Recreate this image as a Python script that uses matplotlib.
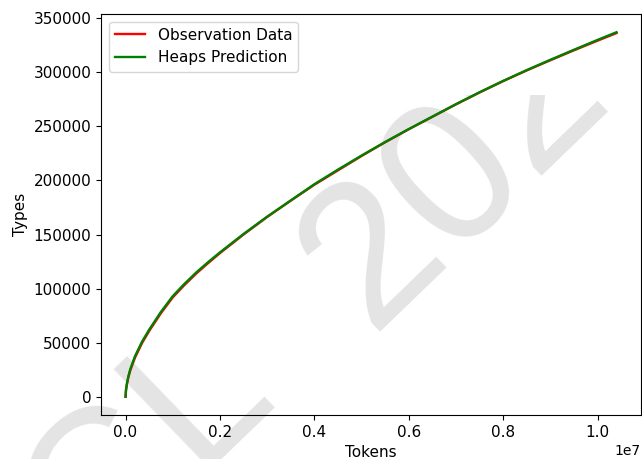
import matplotlib
matplotlib.use("Agg")
import matplotlib.pyplot as plt
from matplotlib.transforms import Bbox, TransformedBbox

# Data
tokens = [0, 1.0e4, 3.0e4, 6.0e4, 1.0e5, 2.0e5, 3.5e5, 5.0e5, 7.5e5, 1.0e6,
          1.25e6, 1.5e6, 1.75e6, 2.0e6, 2.5e6, 3.0e6, 3.5e6, 4.0e6, 4.5e6,
          5.0e6, 5.5e6, 6.0e6, 6.5e6, 7.0e6, 7.5e6, 8.0e6, 8.5e6, 9.0e6,
          9.5e6, 1.0e7, 1.04e7]
types_pred = [0, 6500, 12500, 19000, 25500, 37500, 51000, 62000, 78500, 93000,
              104500, 115000, 124500, 133500, 150500, 166500, 181500, 196500,
              210000, 223000, 235500, 247500, 259000, 270500, 281500, 292000,
              302000, 311500, 320800, 329900, 337000]
types_obs = [0, 6200, 11800, 18000, 24300, 36200, 49700, 60800, 77300, 91900,
             103400, 114000, 123600, 132800, 150000, 166200, 181300, 196000,
             209300, 222600, 235300, 247300, 258800, 270300, 281300, 291800,
             301700, 311100, 320300, 329200, 336200]

W, H = 642, 459
fig = plt.figure(figsize=(W/100, H/100), dpi=100)
ax = fig.add_axes([101/W, 1-415/H, 540/W, 401/H])
ax.set_facecolor('none')

clip = TransformedBbox(Bbox([[0, 0], [1, 1 - 95/H]]), fig.transFigure)
wm_kw = dict(fontsize=146, family="Liberation Sans", color="#e4e4e4",
             rotation=44, rotation_mode="anchor", va="baseline", zorder=-1)
wm1 = fig.text(278/W, 1-395/H, "CCL", ha="right", **wm_kw)
wm2 = fig.text(370/W, 1-332/H, "2020", ha="left", **wm_kw)
for t in (wm1, wm2):
    t.set_clip_box(clip)
    t.set_clip_on(True)

ax.plot(tokens, types_obs, color='red', lw=1.7, label='Observation Data')
ax.plot(tokens, types_pred, color='green', lw=1.7, label='Heaps Prediction')

ax.set_xlabel('Tokens', fontsize=11)
ax.set_ylabel('Types', fontsize=11)
ax.tick_params(labelsize=11)
ax.set_yticks(range(0, 350001, 50000))
ax.legend(loc='upper left', fontsize=11)

fig.savefig('out.png', dpi=100)
